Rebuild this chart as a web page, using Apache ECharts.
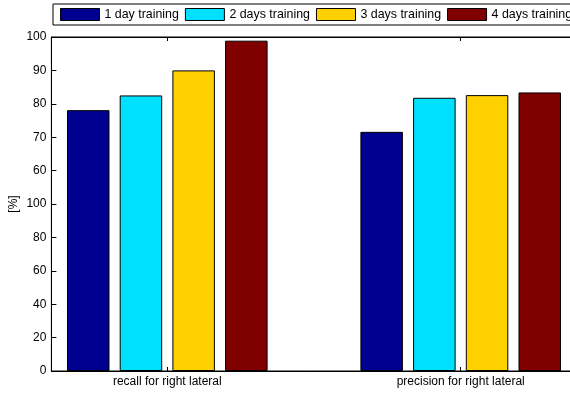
<!DOCTYPE html>
<html>
<head>
<meta charset="utf-8">
<script src="https://cdn.jsdelivr.net/npm/echarts@6/dist/echarts.min.js"></script>
<style>
  html, body { margin: 0; padding: 0; background: #fff; }
  #chart { width: 570px; height: 393px; }
</style>
</head>
<body>
<div id="chart"></div>
<script>
const categories = ['recall for right lateral', 'precision for right lateral'];
const seriesNames = ['1 day training', '2 days training', '3 days training', '4 days training'];
const oneDay = [78.1, 71.6];
const twoDays = [82.5, 81.8];
const threeDays = [90.0, 82.6];
const fourDays = [98.9, 83.4];
const yTicks = [0, 10, 20, 30, 40, 50, 60, 70, 80, 90, 100];
// tick labels as printed on the figure (lower half reads 0..100 in steps of 20)
const yTickLabels = ['0', '20', '40', '60', '80', '100', '60', '70', '80', '90', '100'];

const colors = ['#000090', '#00e0ff', '#ffd000', '#800000'];
const allValues = [oneDay, twoDays, threeDays, fourDays];
const font = 'Liberation Sans, Arial, sans-serif';

const chart = echarts.init(document.getElementById('chart'));

const catPos = categories.map((c, i) => i + 1);

const option = {
  animation: false,
  textStyle: { fontFamily: font },
  legend: {
    data: seriesNames,
    left: 53,
    top: 4,
    width: 700,
    padding: [4, 7, 4, 7],
    icon: 'rect',
    itemWidth: 39,
    itemHeight: 12,
    itemGap: 6,
    backgroundColor: '#fff',
    borderColor: '#000',
    borderWidth: 1,
    borderRadius: 0,
    textStyle: { fontFamily: font, fontSize: 12.4, color: '#000' },
    itemStyle: { borderColor: '#000', borderWidth: 1 }
  },
  grid: {
    left: 51.4,
    right: -6.6,
    top: 37,
    bottom: 22,
    show: true,
    borderColor: '#000',
    borderWidth: 1,
    containLabel: false,
    outerBoundsMode: 'none'
  },
  xAxis: [
    {
      type: 'value',
      min: 0.605,
      max: 2.395,
      splitLine: { show: false },
      axisLine: { show: true, lineStyle: { color: '#000', width: 1 } },
      axisTick: { show: true, inside: true, length: 4, customValues: catPos, lineStyle: { color: '#000' } },
      axisLabel: {
        customValues: catPos,
        formatter: v => categories[Math.round(v) - 1],
        fontFamily: font,
        fontSize: 12,
        color: '#000',
        margin: 5
      }
    },
    {
      type: 'value',
      position: 'top',
      min: 0.605,
      max: 2.395,
      splitLine: { show: false },
      axisLine: { show: true, lineStyle: { color: '#000', width: 1 } },
      axisTick: { show: true, inside: true, length: 4, customValues: catPos, lineStyle: { color: '#000' } },
      axisLabel: { show: false }
    }
  ],
  yAxis: {
    type: 'value',
    min: 0,
    max: 100,
    interval: 10,
    name: '[%]',
    nameLocation: 'middle',
    nameGap: 32,
    nameMoveOverlap: false,
    nameRotate: 90,
    nameTextStyle: { fontFamily: font, fontSize: 12, color: '#000' },
    splitLine: { show: false },
    axisLine: { show: true, lineStyle: { color: '#000', width: 1 } },
    axisTick: { show: true, inside: true, length: 5, lineStyle: { color: '#000' } },
    axisLabel: {
      formatter: v => yTickLabels[yTicks.indexOf(v)],
      fontFamily: font,
      fontSize: 12,
      color: '#000',
      margin: 5
    }
  },
  series: seriesNames.map((name, s) => ({
    name: name,
    type: 'bar',
    barWidth: 42.5,
    barGap: '24%',
    data: allValues[s].map((v, i) => [catPos[i], v]),
    itemStyle: { color: colors[s], borderColor: '#000', borderWidth: 1 }
  }))
};

chart.setOption(option);
</script>
</body>
</html>
